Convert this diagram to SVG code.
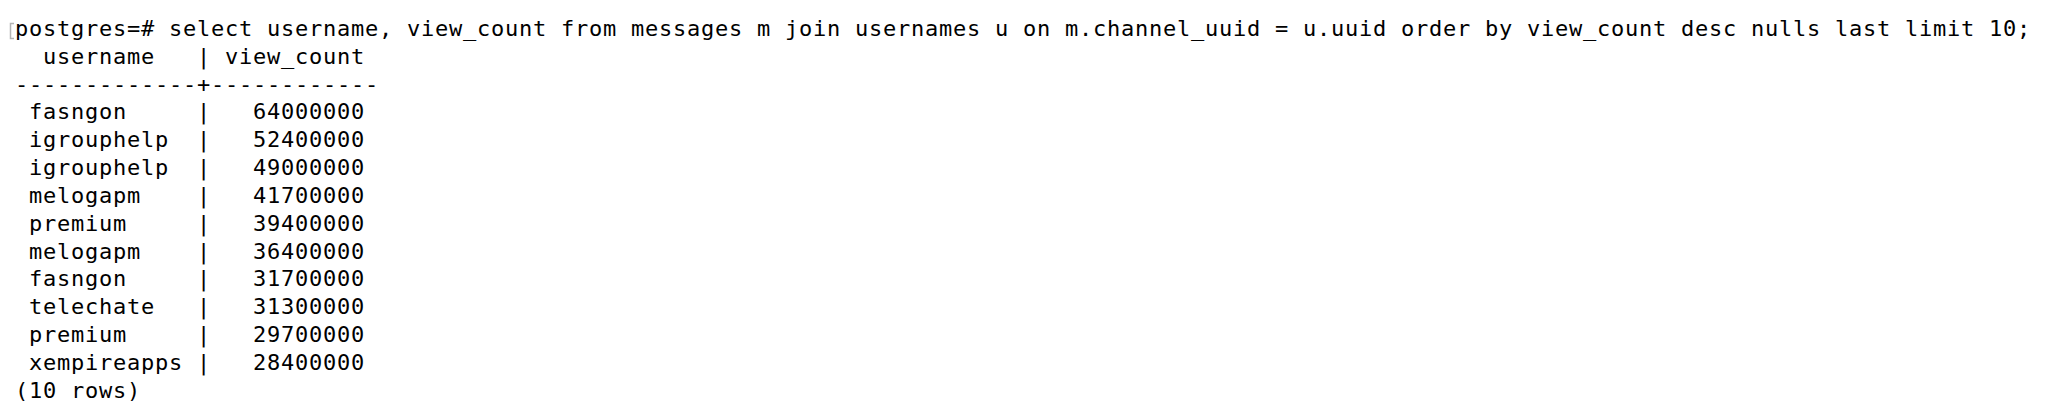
<svg xmlns="http://www.w3.org/2000/svg" width="2050" height="416" viewBox="0 0 2050 416">
<style>
  .t { font-family: "DejaVu Sans Mono", "Liberation Mono", monospace; font-size: 22px; letter-spacing: 0.755px; fill: #000; white-space: pre; }
  .mark { fill: none; stroke: #b4b4b4; stroke-width: 1.5; }
</style>
<rect x="0" y="0" width="2050" height="416" fill="#ffffff"/>
<g id="prompt">
  <path class="mark" d="M14 23.5 H10.5 V38.5 H14"/>
  <text class="t" x="15" y="35.8">postgres=# select username, view_count from messages m join usernames u on m.channel_uuid = u.uuid order by view_count desc nulls last limit 10;</text>
</g>
<g id="header">
  <text class="t" x="43" y="63.65">username</text>
  <text class="t" x="197" y="63.65">|</text>
  <text class="t" x="225" y="63.65">view_count</text>
  <text class="t" x="15" y="91.5">-------------+------------</text>
</g>
<g id="rows">
  <text class="t" x="29" y="119.35">fasngon</text><text class="t" x="197" y="119.35">|</text><text class="t" x="253" y="119.35">64000000</text>
  <text class="t" x="29" y="147.2">igrouphelp</text><text class="t" x="197" y="147.2">|</text><text class="t" x="253" y="147.2">52400000</text>
  <text class="t" x="29" y="175.05">igrouphelp</text><text class="t" x="197" y="175.05">|</text><text class="t" x="253" y="175.05">49000000</text>
  <text class="t" x="29" y="202.9">melogapm</text><text class="t" x="197" y="202.9">|</text><text class="t" x="253" y="202.9">41700000</text>
  <text class="t" x="29" y="230.75">premium</text><text class="t" x="197" y="230.75">|</text><text class="t" x="253" y="230.75">39400000</text>
  <text class="t" x="29" y="258.6">melogapm</text><text class="t" x="197" y="258.6">|</text><text class="t" x="253" y="258.6">36400000</text>
  <text class="t" x="29" y="286.45">fasngon</text><text class="t" x="197" y="286.45">|</text><text class="t" x="253" y="286.45">31700000</text>
  <text class="t" x="29" y="314.3">telechate</text><text class="t" x="197" y="314.3">|</text><text class="t" x="253" y="314.3">31300000</text>
  <text class="t" x="29" y="342.15">premium</text><text class="t" x="197" y="342.15">|</text><text class="t" x="253" y="342.15">29700000</text>
  <text class="t" x="29" y="370">xempireapps</text><text class="t" x="197" y="370">|</text><text class="t" x="253" y="370">28400000</text>
</g>
<g id="footer">
  <text class="t" x="15" y="397.85">(10 rows)</text>
</g>
</svg>
